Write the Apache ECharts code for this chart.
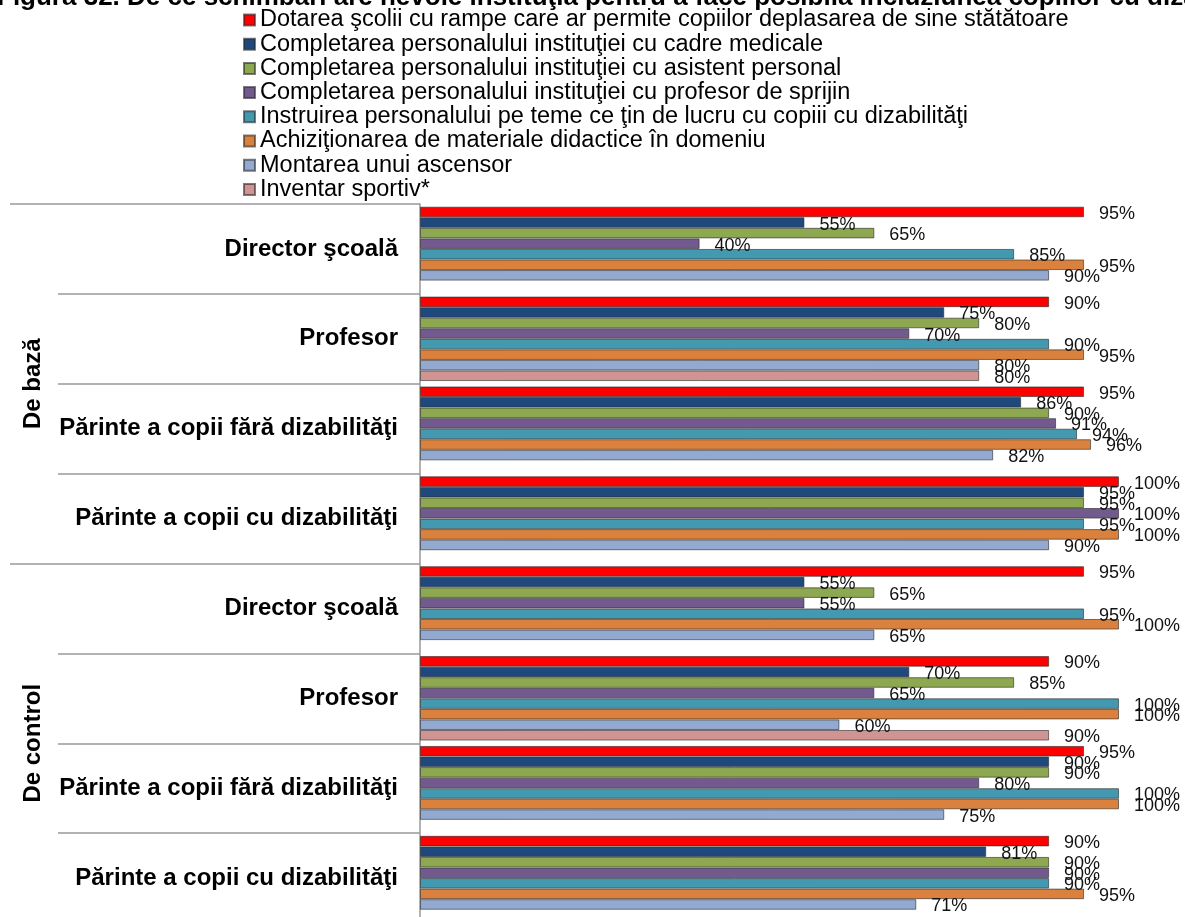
<!DOCTYPE html>
<html>
<head>
<meta charset="utf-8">
<script src="https://cdn.jsdelivr.net/npm/echarts@6/dist/echarts.min.js"></script>
<style>
  html, body { margin: 0; padding: 0; background: #fff; }
  #chart { width: 1185px; height: 917px; }
</style>
</head>
<body>
<div id="chart"></div>
<script>
// group labels (outer level) and respondent categories (inner level), top to bottom
const groups = ['De bază', 'De control'];
const categories = [
  'Director şcoală', 'Profesor', 'Părinte a copii fără dizabilităţi', 'Părinte a copii cu dizabilităţi',
  'Director şcoală', 'Profesor', 'Părinte a copii fără dizabilităţi', 'Părinte a copii cu dizabilităţi'
];

const seriesNames = [
  'Dotarea şcolii cu rampe care ar permite copiilor deplasarea de sine stătătoare',
  'Completarea personalului instituţiei cu cadre medicale',
  'Completarea personalului instituţiei cu asistent personal',
  'Completarea personalului instituţiei cu profesor de sprijin',
  'Instruirea personalului pe teme ce ţin de lucru cu copiii cu dizabilităţi',
  'Achiziţionarea de materiale didactice în domeniu',
  'Montarea unui ascensor',
  'Inventar sportiv*'
];

// values in %, one per category
const rampe = [95, 90, 95, 100, 95, 90, 95, 90];
const cadreMedicale = [55, 75, 86, 95, 55, 70, 90, 81];
const asistent = [65, 80, 90, 95, 65, 85, 90, 90];
const profSprijin = [40, 70, 91, 100, 55, 65, 80, 90];
const instruire = [85, 90, 94, 95, 95, 100, 100, 90];
const materiale = [95, 95, 96, 100, 100, 100, 100, 95];
const ascensor = [90, 80, 82, 90, 65, 60, 75, 71];
const inventar = [null, 80, null, null, null, 90, null, null];

const seriesData = [rampe, cadreMedicale, asistent, profSprijin, instruire, materiale, ascensor, inventar];
const colors = ['#FF0000', '#1F497D', '#8DA851', '#725A8F', '#4299B0', '#DA823D', '#93A9CF', '#D09493'];

const font = 'Liberation Sans, Arial, sans-serif';

const chart = echarts.init(document.getElementById('chart'));

chart.setOption({
  animation: false,
  title: {
    text: 'Figura 32. De ce schimbări are nevoie instituţia pentru a face posibilă incluziunea copiilor cu dizabilităţi',
    left: -3,
    top: -15,
    padding: 0,
    textStyle: { fontFamily: font, fontSize: 26, fontWeight: 'bold', color: '#000' }
  },
  legend: {
    orient: 'vertical',
    left: 243,
    top: 8,
    padding: 0,
    icon: 'rect',
    itemWidth: 11,
    itemHeight: 11,
    itemGap: 0.2,
    textStyle: { fontFamily: font, fontSize: 23.5, color: '#000' },
    data: seriesNames
  },
  // the last category runs past the bottom edge, as in the source picture
  grid: { left: 420, top: 204, width: 699, height: 719, containLabel: false, outerBoundsMode: 'none' },
  xAxis: {
    type: 'value',
    min: 0,
    max: 100,
    show: false
  },
  yAxis: [
    {
      type: 'category',
      data: categories,
      inverse: true,
      axisLine: { show: true, lineStyle: { color: '#999', width: 1.5 } },
      axisTick: { show: true, interval: 0, length: 362, lineStyle: { color: '#999', width: 1.5 } },
      axisLabel: {
        interval: 0, margin: 22,
        fontFamily: font, fontSize: 24, fontWeight: 'bold', color: '#000'
      }
    },
    {
      type: 'category',
      data: groups,
      inverse: true,
      position: 'left',
      axisLine: { show: false },
      axisTick: { show: true, interval: 0, length: 410, lineStyle: { color: '#999', width: 1.5 } },
      axisLabel: {
        interval: 0, rotate: 90, margin: 375,
        fontFamily: font, fontSize: 24, fontWeight: 'bold', color: '#000'
      }
    }
  ],
  series: seriesNames.map((name, i) => ({
    name: name,
    type: 'bar',
    yAxisIndex: 0,
    data: seriesData[i],
    barGap: '0%',
    barCategoryGap: '6%',
    itemStyle: { color: colors[i], borderColor: 'rgba(40,40,40,0.6)', borderWidth: 1 },
    label: {
      show: true,
      position: 'right',
      distance: 15,
      offset: [0, 2],
      fontFamily: font,
      fontSize: 18,
      color: '#111',
      formatter: p => (p.value == null ? '' : p.value + '%')
    }
  }))
});
</script>
</body>
</html>
